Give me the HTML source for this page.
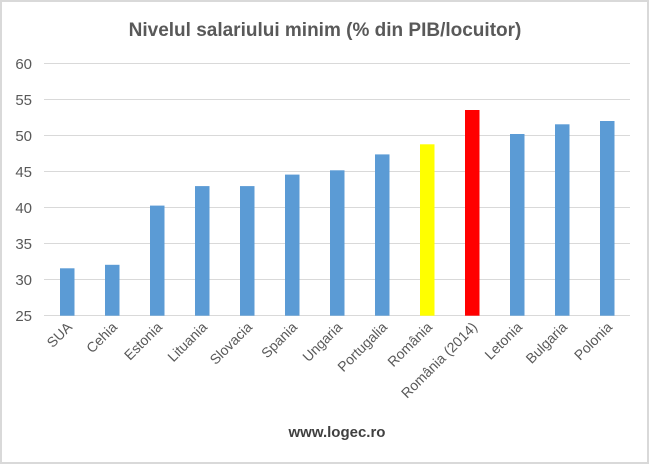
<!DOCTYPE html>
<html><head><meta charset="utf-8"><style>
html,body{margin:0;padding:0;background:#fff}
svg{display:block;font-family:"Liberation Sans","DejaVu Sans",sans-serif}
</style></head><body>
<svg width="650" height="465" viewBox="0 0 650 465" xmlns="http://www.w3.org/2000/svg">
<rect x="0" y="0" width="650" height="465" fill="#fff"/>
<rect x="1" y="1" width="647" height="462" fill="none" stroke="#d9d9d9" stroke-width="2"/>
<text x="325" y="36" text-anchor="middle" font-size="19" font-weight="bold" fill="#595959">Nivelul salariului minim (% din PIB/locuitor)</text>
<g stroke="#d9d9d9" stroke-width="1">
<line x1="44" x2="630" y1="63.5" y2="63.5"/>
<line x1="44" x2="630" y1="99.5" y2="99.5"/>
<line x1="44" x2="630" y1="135.5" y2="135.5"/>
<line x1="44" x2="630" y1="171.5" y2="171.5"/>
<line x1="44" x2="630" y1="207.5" y2="207.5"/>
<line x1="44" x2="630" y1="243.5" y2="243.5"/>
<line x1="44" x2="630" y1="279.5" y2="279.5"/>
<line x1="44" x2="630" y1="315.5" y2="315.5"/>
</g>
<g font-size="15" fill="#595959" text-anchor="end">
<text x="32" y="69">60</text><text x="32" y="105">55</text><text x="32" y="141">50</text>
<text x="32" y="177">45</text><text x="32" y="213">40</text><text x="32" y="249">35</text>
<text x="32" y="285">30</text><text x="32" y="321">25</text>
</g>
<g fill="#5b9bd5">
<rect x="60" y="268.3" width="14.5" height="47.4"/>
<rect x="105" y="264.8" width="14.5" height="50.9"/>
<rect x="150" y="205.6" width="14.5" height="110.1"/>
<rect x="195" y="186.1" width="14.5" height="129.6"/>
<rect x="240" y="186.1" width="14.5" height="129.6"/>
<rect x="285" y="174.6" width="14.5" height="141.1"/>
<rect x="330" y="170.3" width="14.5" height="145.4"/>
<rect x="375" y="154.4" width="14.5" height="161.3"/>
<rect x="510" y="134.0" width="14.5" height="181.7"/>
<rect x="555" y="124.3" width="14.5" height="191.4"/>
<rect x="600" y="121.0" width="14.5" height="194.7"/>
</g>
<rect x="420" y="144.3" width="14.5" height="171.4" fill="#ffff00"/>
<rect x="465" y="110" width="14.5" height="205.7" fill="#ff0000"/>
<g font-size="14" fill="#595959" text-anchor="end">
<text transform="translate(73,328) rotate(-45)">SUA</text>
<text transform="translate(118,328) rotate(-45)">Cehia</text>
<text transform="translate(163,328) rotate(-45)">Estonia</text>
<text transform="translate(208,328) rotate(-45)">Lituania</text>
<text transform="translate(253,328) rotate(-45)">Slovacia</text>
<text transform="translate(298,328) rotate(-45)">Spania</text>
<text transform="translate(343,328) rotate(-45)">Ungaria</text>
<text transform="translate(388,328) rotate(-45)">Portugalia</text>
<text transform="translate(433,328) rotate(-45)">România</text>
<text transform="translate(478,328) rotate(-45)">România (2014)</text>
<text transform="translate(523,328) rotate(-45)">Letonia</text>
<text transform="translate(568,328) rotate(-45)">Bulgaria</text>
<text transform="translate(613,328) rotate(-45)">Polonia</text>
</g>
<text x="337" y="437" text-anchor="middle" font-size="15" font-weight="bold" fill="#404040">www.logec.ro</text>
</svg>
</body></html>
